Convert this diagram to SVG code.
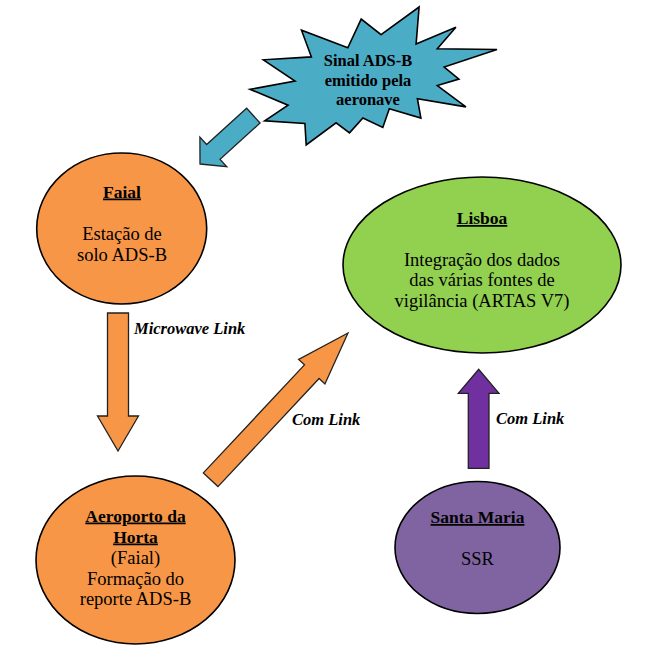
<svg xmlns="http://www.w3.org/2000/svg" width="652" height="653" viewBox="0 0 652 653">
<style>
text{fill:#000;text-anchor:middle}
.t{font-weight:bold;font-size:17.5px;text-decoration:underline}
.b{font-size:18.5px}
.s{font-weight:bold;font-size:16.5px}
.l{font-weight:bold;font-style:italic;font-size:16.5px;text-anchor:start}
.node{stroke:#000;stroke-width:1.6}
.arr{stroke:#222;stroke-width:1.3;stroke-linejoin:miter}
</style>
<rect width="652" height="653" fill="#fff"/>
<g font-family="'Liberation Serif', 'DejaVu Serif', serif">
<g id="sinal">
<polygon class="node" fill="#4bacc6" stroke-width="2" points="381.1,34.7 419.1,7 416.1,43.9 455.9,27.3 437.3,48.7 497,49.5 444.2,67.1 458.9,79.1 437.3,85.6 465.9,106.9 417.4,98.7 420.9,118 389.3,108.8 382.8,127.4 362.9,118 349.5,132.9 336.1,122.8 306.2,145 304.9,123.5 264.7,120.9 288.1,105.2 250,89.3 295,81.1 263.4,59.8 311.4,56.9 301.5,30.2 347.8,47.8 361.2,19.1"/>
<text class="s" x="368" y="66">Sinal ADS-B</text>
<text class="s" x="368" y="85.5">emitido pela</text>
<text class="s" x="368" y="105">aeronave</text>
</g>
<g id="faial">
<ellipse class="node" fill="#f79646" cx="121.7" cy="228.5" rx="85" ry="75.5"/>
<text class="t" x="122" y="197.5">Faial</text>
<text class="b" x="122" y="240">Estação de</text>
<text class="b" x="122" y="261">solo ADS-B</text>
</g>
<g id="lisboa">
<ellipse class="node" fill="#92d050" cx="482" cy="265" rx="139" ry="88"/>
<text class="t" x="482" y="224">Lisboa</text>
<text class="b" x="482" y="266">Integração dos dados</text>
<text class="b" x="482" y="286">das várias fontes de</text>
<text class="b" x="482" y="306.5">vigilância (ARTAS V7)</text>
</g>
<g id="horta">
<ellipse class="node" fill="#f79646" cx="135.5" cy="560" rx="99.5" ry="84"/>
<text class="t" x="135.5" y="521.5">Aeroporto da</text>
<text class="t" x="135.5" y="542.5">Horta</text>
<text class="b" x="135.5" y="563.5">(Faial)</text>
<text class="b" x="135.5" y="584.5">Formação do</text>
<text class="b" x="135.5" y="605">reporte ADS-B</text>
</g>
<g id="santamaria">
<ellipse class="node" fill="#8064a2" cx="477.5" cy="547.5" rx="82.5" ry="66"/>
<text class="t" x="477.5" y="523">Santa Maria</text>
<text class="b" x="477.5" y="565">SSR</text>
</g>
<g id="connectors">
<polygon class="arr" fill="#4bacc6" transform="translate(200,164) rotate(137.8)" points="0,0 -18,-20 -18,-10 -72,-10 -72,10 -18,10 -18,20"/>
<polygon class="arr" fill="#f79646" points="107.5,313 128.5,313 128.5,416 138.5,416 118,451 97.5,416 107.5,416"/>
<text class="l" x="134" y="334">Microwave Link</text>
<polygon class="arr" fill="#f79646" transform="translate(348,333) rotate(-46.9)" points="0,0 -53,-18 -53,-10 -201,-10 -201,10 -53,10 -53,18"/>
<text class="l" x="292" y="425">Com Link</text>
<polygon class="arr" fill="#7030a0" points="468.3,468.3 489,468.3 489,393.3 499,393.3 478.7,369.3 458.3,393.3 468.3,393.3"/>
<text class="l" x="496" y="424">Com Link</text>
</g>
</g>
</svg>
